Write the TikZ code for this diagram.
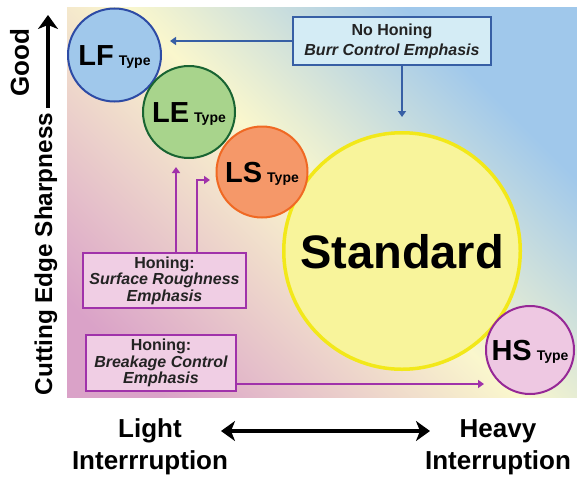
\documentclass[tikz,border=0pt]{standalone}
\usepackage{fontspec}
\setmainfont{Liberation Sans}
\usetikzlibrary{arrows.meta}
\definecolor{bgblue}{RGB}{160,200,235}
\definecolor{bgyel}{RGB}{250,247,205}
\definecolor{bgpink}{RGB}{218,162,200}
\definecolor{lffill}{RGB}{160,200,235}
\definecolor{lfline}{RGB}{45,75,165}
\definecolor{lefill}{RGB}{168,212,140}
\definecolor{leline}{RGB}{25,100,50}
\definecolor{lsfill}{RGB}{245,152,105}
\definecolor{lsline}{RGB}{240,105,35}
\definecolor{stfill}{RGB}{248,244,155}
\definecolor{stline}{RGB}{242,232,25}
\definecolor{hsfill}{RGB}{238,200,226}
\definecolor{hsline}{RGB}{150,40,150}
\definecolor{nhfill}{RGB}{212,236,245}
\definecolor{nhline}{RGB}{55,95,165}
\definecolor{pkfill}{RGB}{240,206,228}
\definecolor{pkline}{RGB}{160,50,170}
\definecolor{txtgray}{RGB}{35,35,35}
\pgfdeclarehorizontalshading{bgshade}{100bp}{color(0bp)=(bgpink); color(22bp)=(bgpink); color(50bp)=(bgyel); color(72bp)=(bgblue); color(100bp)=(bgblue)}
\newcommand\ctxt[1]{\fontsize{29}{29}\selectfont #1\hspace{5pt}\fontsize{14}{14}\selectfont Type}
\tikzset{
  circ/.style={circle, inner sep=0pt, line width=2pt, text height=21pt, text depth=0pt, font=\bfseries},
  boxn/.style={rectangle, line width=1.3pt, inner sep=0pt, align=center, text=txtgray, font=\bfseries\fontsize{16}{16.5}\selectfont},
  barrow/.style={draw=nhline, line width=1.5pt, -{Triangle[length=6pt,width=8pt]}},
  parrow/.style={draw=pkline, line width=1.5pt, -{Triangle[length=6pt,width=8pt]}},
  axarrow/.style={line width=4.5pt, -{Stealth[length=14pt,width=20pt,inset=4pt]}},
  axlbl/.style={font=\bfseries\fontsize{26}{32}\selectfont, align=center, inner sep=0pt}
}
\begin{document}
\begin{tikzpicture}[x=1pt,y=-1pt]
\useasboundingbox (0,0) rectangle (577,479);
\shade[shading=bgshade, shading angle=45] (67,7) rectangle (577,397);

% circles
\node[circ, draw=stline, fill=stfill, line width=3.5pt, minimum size=236.5pt, text height=34pt, font=\bfseries\fontsize{47}{47}\selectfont] (st) at (402,251) {Standard};
\node[circ, draw=lfline, fill=lffill, minimum size=93pt] (lf) at (114.5,55) {\ctxt{LF}};
\node[circ, draw=leline, fill=lefill, minimum size=92pt] (le) at (189,112) {\ctxt{LE}};
\node[circ, draw=lsline, fill=lsfill, minimum size=91pt] (ls) at (262,172) {\ctxt{LS}};
\node[circ, draw=hsline, fill=hsfill, minimum size=88pt] (hs) at (530,350) {\ctxt{HS}};

% boxes
\node[boxn, draw=nhline, fill=nhfill, minimum width=198pt, minimum height=48pt, font=\bfseries\fontsize{16}{20}\selectfont] (nh) at (392,41) {No Honing\\\itshape Burr Control Emphasis};
\node[boxn, draw=pkline, fill=pkfill, minimum width=163pt, minimum height=55pt] (sr) at (164.5,280.5) {Honing:\\\itshape Surface Roughness\\\itshape Emphasis};
\node[boxn, draw=pkline, fill=pkfill, minimum width=150pt, minimum height=56pt] (bc) at (161,363) {Honing:\\\itshape Breakage Control\\\itshape Emphasis};

% connectors
\coordinate (lftip) at (170,41);
\coordinate (sttip) at (402,117);
\coordinate (letip) at (176,167);
\coordinate (lsbend) at (197,180);
\coordinate (lstip) at (210,180);
\coordinate (hstip) at (484,384);
\draw[barrow] (nh.west) -- (lftip);
\draw[barrow] (nh.south -| sttip) -- (sttip);
\draw[parrow] (sr.north -| letip) -- (letip);
\draw[parrow] (sr.north -| lsbend) -- (lsbend) -- (lstip);
\draw[parrow] (bc.east |- hstip) -- (hstip);

% axes
\coordinate (ya) at (48,108);
\coordinate (yb) at (48,15);
\draw[axarrow] (ya) -- (yb);
\coordinate (xa) at (221,431);
\coordinate (xb) at (430,431);
\draw[axarrow, {Stealth[length=14pt,width=20pt,inset=4pt]}-{Stealth[length=14pt,width=20pt,inset=4pt]}] (xa) -- (xb);

\node[rotate=90, inner sep=0pt, font=\bfseries\fontsize{26}{26}\selectfont] (good) at (19.5,63) {Good};
\node[rotate=90, inner sep=0pt, font=\bfseries\fontsize{24.3}{24.3}\selectfont] (ces) at (46,254) {Cutting Edge Sharpness};
\node[axlbl] (light) at (150,447) {Light\\Interrruption};
\node[axlbl] (heavy) at (498,447) {Heavy\\Interruption};
\end{tikzpicture}
\end{document}
